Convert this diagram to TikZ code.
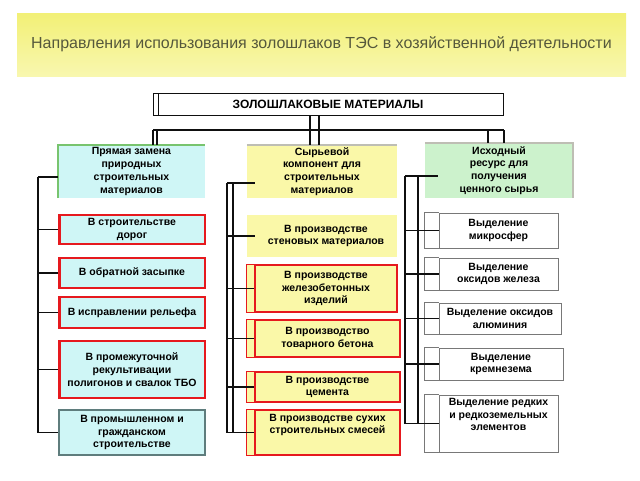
\documentclass[tikz,border=0pt]{standalone}
\usepackage{fontspec}
\setmainfont{Liberation Sans}
\setsansfont{Liberation Sans}
\usetikzlibrary{positioning, calc}
\definecolor{bandtop}{RGB}{242, 240, 118}
\definecolor{bandbottom}{RGB}{248, 247, 175}
\definecolor{titlecolor}{RGB}{85, 88, 60}
\definecolor{linecolor}{RGB}{15, 15, 15}
\definecolor{boxred}{RGB}{230, 25, 30}
\definecolor{cyanfill}{RGB}{207, 246, 246}
\definecolor{yellowfill}{RGB}{250, 248, 168}
\definecolor{greenfill}{RGB}{204, 242, 204}
\definecolor{greenedge}{RGB}{120, 196, 110}
\definecolor{shadowgray}{RGB}{190, 190, 180}
\definecolor{tealgray}{RGB}{95, 125, 125}
\definecolor{whiteedge}{RGB}{120, 120, 120}
\tikzset{
    boxtext/.style={
        font=\sffamily\bfseries\fontsize{10.5}{12.7}\selectfont,
        align=center,
        inner sep=1pt
    },
    titleband/.style={
        rectangle,
        top color=bandtop,
        bottom color=bandbottom,
        text=titlecolor,
        font=\sffamily\fontsize{16}{19}\selectfont
    },
    rootbox/.style={
        rectangle,
        draw=linecolor,
        line width=0.7pt,
        fill=white,
        boxtext,
        font=\sffamily\bfseries\fontsize{12}{14}\selectfont,
        path picture={\draw[linecolor, line width=0.7pt]
            ([xshift=5pt]path picture bounding box.north west) --
            ([xshift=5pt]path picture bounding box.south west);}
    },
    headbox/.style={
        rectangle,
        boxtext,
        minimum height=53pt
    },
    usebox/.style={
        rectangle,
        draw=boxred,
        line width=1.2pt,
        fill=cyanfill,
        boxtext,
        minimum width=146pt,
        path picture={\draw[boxred, line width=3pt]
            (path picture bounding box.north west) --
            (path picture bounding box.south west);}
    },
    rawbox/.style={
        rectangle,
        draw=boxred,
        line width=1.2pt,
        fill=yellowfill,
        boxtext
    },
    getbox/.style={
        rectangle,
        draw=whiteedge,
        line width=0.8pt,
        fill=white,
        boxtext
    },
    link/.style={
        line width=1.2pt,
        color=linecolor
    },
    busline/.style={
        line width=2pt,
        color=linecolor
    }
}

\begin{document}
\begin{tikzpicture}[x=1pt, y=-1pt]
    \useasboundingbox (0,0) rectangle (640,480);

    % Title band
    \node (title) [titleband, minimum width=609pt, minimum height=63pt] at (321.5,44.5)
        {Направления использования золошлаков ТЭС в хозяйственной деятельности};

    % Root box
    \node (materials) [rootbox, minimum width=350pt, minimum height=22pt] at (328,104)
        {ЗОЛОШЛАКОВЫЕ МАТЕРИАЛЫ};

    % Three head boxes
    \node (directhead) [headbox, fill=cyanfill, minimum width=147pt] at (131.5,171.5)
        {Прямая замена\\природных\\строительных\\материалов};
    \node (rawhead) [headbox, fill=yellowfill, minimum width=150pt] at (322,171.5)
        {Сырьевой\\компонент для\\строительных\\материалов};
    \node (sourcehead) [headbox, fill=greenfill, minimum width=148pt, minimum height=55pt] at (499,170.5)
        {Исходный\\ресурс для\\получения\\ценного сырья};

    % Shadow edges of the head boxes
    \draw[greenedge, line width=2.5pt] (directhead.south west) -- (directhead.north west) -- (directhead.north east);
    \draw[shadowgray, line width=2.5pt] (rawhead.north west) -- (rawhead.north east);
    \draw[shadowgray, line width=2.5pt] (sourcehead.north west) -- (sourcehead.north east) -- (sourcehead.south east);

    % Direct replacement column
    \node (roads) [usebox, minimum height=29pt] at (132,229.5) {В строительстве\\дорог};
    \node (backfill) [usebox, minimum height=30pt] at (132,273) {В обратной засыпке};
    \node (relief) [usebox, minimum height=31pt] at (132,312.5) {В исправлении рельефа};
    \node (landfill) [usebox, minimum height=57pt] at (132,369.5)
        {В промежуточной\\рекультивации\\полигонов и свалок ТБО};
    \node (civil) [usebox, draw=tealgray, path picture={}, minimum height=45pt] at (132,432.5)
        {В промышленном и\\гражданском\\строительстве};

    % Raw component column (left strip added below)
    \node (wall) [rectangle, fill=yellowfill, boxtext, minimum width=142pt, minimum height=42pt] at (326,236)
        {В производстве\\стеновых материалов};
    \node (concrete) [rawbox, minimum width=142pt, minimum height=47pt] at (326,288.5)
        {В производстве\\железобетонных\\изделий};
    \node (readymix) [rawbox, minimum width=145pt, minimum height=37pt] at (327.5,338.5)
        {В производство\\товарного бетона};
    \node (cement) [rawbox, minimum width=145pt, minimum height=30pt] at (327.5,387)
        {В производстве\\цемента};
    \node (drymix) [rawbox, minimum width=145pt, minimum height=45pt, text depth=17pt] at (327.5,432.5)
        {В производстве сухих\\строительных смесей};

    % Valuable resource column (left strip added below)
    \node (spheres) [getbox, minimum width=119pt, minimum height=35pt] at (498.5,230.5)
        {Выделение\\микросфер};
    \node (iron) [getbox, minimum width=119pt, minimum height=32pt] at (498.5,274)
        {Выделение\\оксидов железа};
    \node (alumina) [getbox, minimum width=122pt, minimum height=31pt] at (500,318.5)
        {Выделение оксидов\\алюминия};
    \node (silica) [getbox, minimum width=124pt, minimum height=32pt] at (501,364)
        {Выделение\\кремнезема};
    \node (rare) [getbox, minimum width=119pt, minimum height=57pt, text depth=18pt] at (498.5,423.5)
        {Выделение редких\\и редкоземельных\\элементов};

    % Left strips
    \fill[yellowfill] (wall.north west) rectangle ([xshift=-8pt]wall.south west);
    \foreach \n in {concrete, readymix, cement, drymix}
        \draw[boxred, line width=1.2pt, fill=yellowfill] (\n.north west) -- ++(-8,0) |- (\n.south west);
    \foreach \n in {spheres, iron, alumina, silica, rare}
        \draw[whiteedge, line width=0.8pt, fill=white] (\n.north west) -- ++(-14,0) |- (\n.south west);

    % Root to heads
    \coordinate (busL) at (153,130);
    \coordinate (busR) at (504,130);
    \draw[link] ([xshift=-18pt]materials.south) -- ([xshift=-18pt]materials.south |- rawhead.north);
    \draw[link] ([xshift=-9pt]materials.south) -- ([xshift=-9pt]materials.south |- rawhead.north);
    \draw[busline] (busL) -- (busR);
    \draw[link] (busL) -- (busL |- directhead.north);
    \draw[link] ([xshift=4pt]busL) -- ([xshift=4pt]busL |- directhead.north);
    \draw[link] (busR) -- (busR |- sourcehead.north);
    \draw[link] ([xshift=-16pt]busR) -- ([xshift=-16pt]busR |- sourcehead.north);

    % Left bus
    \coordinate (lbus) at (38,177);
    \draw[link] (lbus) -- (lbus |- civil.west);
    \draw[link] (lbus) -- (lbus -| directhead.west);
    \foreach \n in {roads, backfill, relief, landfill, civil}
        \draw[link] (lbus |- \n.west) -- (\n.west);

    % Middle bus
    \coordinate (mbus) at (227,183);
    \draw[link] (mbus) -- (mbus |- drymix.west);
    \draw[link] ([xshift=6pt]mbus) -- ([xshift=6pt]mbus |- drymix.west);
    \draw[link] (mbus) -- ([xshift=8pt]mbus -| rawhead.west);
    \foreach \n in {wall, concrete, readymix, cement, drymix}
        \draw[link] (mbus |- \n.west) -- (\n.west);

    % Right bus
    \coordinate (rbus) at (405,176);
    \draw[link] (rbus) -- (rbus |- rare.west);
    \draw[link] ([xshift=13pt]rbus) -- ([xshift=13pt]rbus |- rare.west);
    \draw[link] (rbus) -- ([xshift=13pt]rbus -| sourcehead.west);
    \foreach \n in {spheres, iron, alumina, silica, rare}
        \draw[link] (rbus |- \n.west) -- (\n.west);

\end{tikzpicture}
\end{document}
